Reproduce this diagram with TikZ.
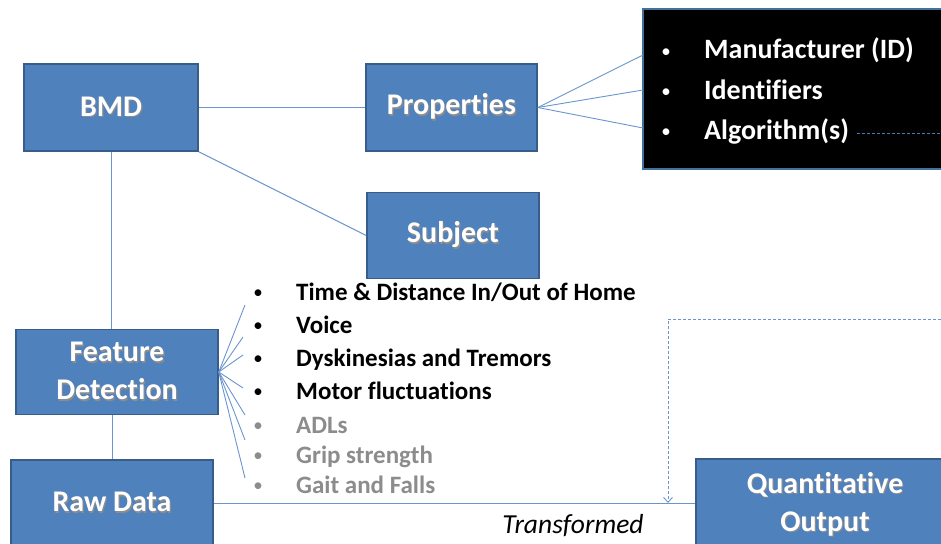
\documentclass[tikz,border=0pt]{standalone}
\usepackage{fontspec}
\setmainfont{Carlito}[Ligatures=NoCommon]
\usetikzlibrary{arrows.meta,calc}
\definecolor{boxfill}{HTML}{4F81BD}
\definecolor{boxedge}{HTML}{385D8A}
\definecolor{wirec}{HTML}{6A95CF}
\definecolor{blkedge}{HTML}{41719C}
\definecolor{algdash}{HTML}{4A78B8}
\definecolor{greytxt}{HTML}{8C8C8C}
\newcommand\shtxt[1]{\leavevmode\rlap{\hspace{1.2pt}\raisebox{-1.5pt}{\color{black!45}#1}}#1}
\newcommand\smallbul{{\fontsize{19}{19}\selectfont\textbullet}}
\begin{document}
\begin{tikzpicture}[x=1pt,y=-1pt,
  bluebox/.style={draw=boxedge, line width=1.5pt, fill=boxfill, text=white,
    font=\bfseries\fontsize{30}{38}\selectfont, align=center, inner sep=0pt},
  wire/.style={draw=wirec, line width=0.9pt},
  dwire/.style={draw=wirec, line width=1pt, dash pattern=on 3pt off 2pt},
  featitem/.style={anchor=base west, inner sep=0pt, font=\bfseries\fontsize{25}{29}\selectfont},
  bulitem/.style={anchor=base, inner sep=0pt},
  blkitem/.style={anchor=base west, inner sep=0pt, text=white, font=\bfseries\fontsize{28}{32}\selectfont}]
\useasboundingbox (0,0) rectangle (941,543);
\clip (0,0) rectangle (941,543);

% boxes
\node[bluebox, minimum width=174pt, minimum height=87pt] (bmd) at (111,107.5) {\shtxt{BMD}};
\node[bluebox, minimum width=171pt, minimum height=87pt] (prop) at (451.5,107.5) {\shtxt{Properties}};
\node[bluebox, minimum width=172pt, minimum height=86pt] (subj) at (453,235.5) {\shtxt{Subject}};
\node[bluebox, minimum width=202pt, minimum height=85pt] (feat) at (117,372) {\shtxt{Feature}\\\shtxt{Detection}};
\node[bluebox, minimum width=202pt, minimum height=86pt] (raw) at (112,503) {\shtxt{Raw Data}};
\node[bluebox, minimum width=258pt, minimum height=92pt] (quant) at (825,505) {\shtxt{Quantitative}\\\shtxt{Output}};

% black property list
\node[draw=blkedge, line width=1.5pt, fill=black, minimum width=320pt, minimum height=160pt, inner sep=0pt] (blk) at (803,89) {};
\node[bulitem, text=white] at (666,57) {\smallbul};
\node[blkitem] (m1) at (704,59) {Manufacturer (ID)};
\node[bulitem, text=white] at (666,97) {\smallbul};
\node[blkitem] (m2) at (704,99) {Identifiers};
\node[bulitem, text=white] at (666,137) {\smallbul};
\node[blkitem] (m3) at (704,139) {Algorithm(s)};

% feature items
\node[bulitem] at (258,298) {\smallbul};
\node[featitem] (f1) at (296,300) {Time \& Distance In/Out of Home};
\node[bulitem] at (258,331) {\smallbul};
\node[featitem] (f2) at (296,333) {Voice};
\node[bulitem] at (258,364) {\smallbul};
\node[featitem] (f3) at (296,366) {Dyskinesias and Tremors};
\node[bulitem] at (258,397) {\smallbul};
\node[featitem] (f4) at (296,399) {Motor fluctuations};
\node[bulitem, text=greytxt] at (258,431) {\smallbul};
\node[featitem, text=greytxt] (f5) at (296,433) {ADLs};
\node[bulitem, text=greytxt] at (258,461) {\smallbul};
\node[featitem, text=greytxt] (f6) at (296,463) {Grip strength};
\node[bulitem, text=greytxt] at (258,491) {\smallbul};
\node[featitem, text=greytxt] (f7) at (296,493) {Gait and Falls};

\node[inner sep=0pt, anchor=base, font=\itshape\fontsize{27.5}{32}\selectfont] (trans) at (573,533) {Transformed};

% free ends
\coordinate (b1) at (643,55);
\coordinate (b2) at (643,90);
\coordinate (b3) at (643,128);
\coordinate (e1) at (245,305);
\coordinate (e2) at (243,337);
\coordinate (e3) at (243,355);
\coordinate (e4) at (243,388);
\coordinate (e5) at (245,415);
\coordinate (e6) at (245,440);
\coordinate (e7) at (245,478);
\coordinate (algstart) at ([xshift=8pt,yshift=6pt]m3.base east);
\coordinate (algend) at (941,133);
\coordinate (fbstart) at (941,319);
\coordinate (fbturn) at (668,319);
\coordinate (fbend) at (668,503);

% connectors
\draw[wire] (bmd.east) -- (prop.west);
\draw[wire] (bmd.south east) -- (subj.west);
\draw[wire] (bmd.south) -- (bmd.south |- feat.north);
\draw[wire] (feat.south -| raw.north) -- (raw.north);
\foreach \b in {b1,b2,b3} \draw[wire] (prop.east) -- (\b);
\foreach \e in {e1,e2,e3,e4,e5,e6,e7} \draw[wire] (feat.east) -- (\e);
\draw[wire] (raw.east) -- (raw.east -| quant.west);
\draw[dwire, draw=algdash] (algstart) -- (algend |- algstart);
\draw[dwire, -{Straight Barb[length=5pt,width=9pt,line width=0.9pt]}] (fbstart) -- (fbturn) -- (fbend);
\end{tikzpicture}
\end{document}
